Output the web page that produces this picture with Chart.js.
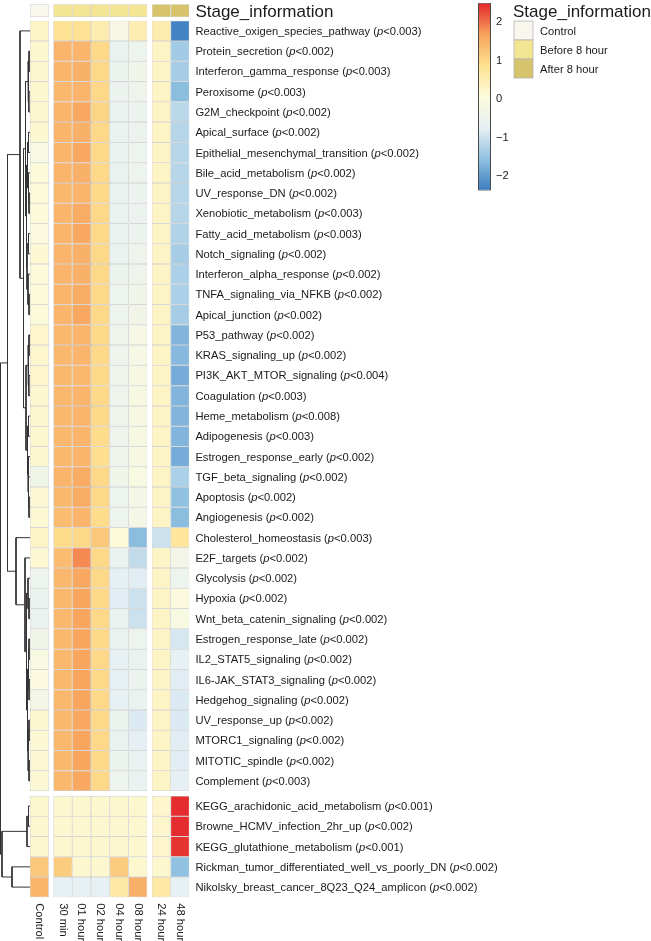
<!DOCTYPE html>
<html>
<head>
<meta charset="utf-8">
<script src="https://cdn.jsdelivr.net/npm/chart.js@4.4.1/dist/chart.umd.min.js"></script>
<style>
  html, body { margin: 0; padding: 0; background: #fff; }
  #wrap { position: relative; width: 651px; height: 941px; }
  #wrap canvas { position: absolute; left: 0; top: 0; }
</style>
</head>
<body>
<div id="wrap">
  <canvas id="heat" width="651" height="941"></canvas>
  <canvas id="colorKey" width="651" height="941"></canvas>
</div>
<script>
var pathways = [
  'Reactive_oxigen_species_pathway', 'Protein_secretion', 'Interferon_gamma_response', 'Peroxisome',
  'G2M_checkpoint', 'Apical_surface', 'Epithelial_mesenchymal_transition', 'Bile_acid_metabolism',
  'UV_response_DN', 'Xenobiotic_metabolism', 'Fatty_acid_metabolism', 'Notch_signaling',
  'Interferon_alpha_response', 'TNFA_signaling_via_NFKB', 'Apical_junction', 'P53_pathway',
  'KRAS_signaling_up', 'PI3K_AKT_MTOR_signaling', 'Coagulation', 'Heme_metabolism', 'Adipogenesis',
  'Estrogen_response_early', 'TGF_beta_signaling', 'Apoptosis', 'Angiogenesis', 'Cholesterol_homeostasis',
  'E2F_targets', 'Glycolysis', 'Hypoxia', 'Wnt_beta_catenin_signaling', 'Estrogen_response_late',
  'IL2_STAT5_signaling', 'IL6-JAK_STAT3_signaling', 'Hedgehog_signaling', 'UV_response_up',
  'MTORC1_signaling', 'MITOTIC_spindle', 'Complement',
  'KEGG_arachidonic_acid_metabolism', 'Browne_HCMV_infection_2hr_up', 'KEGG_glutathione_metabolism',
  'Rickman_tumor_differentiated_well_vs_poorly_DN', 'Nikolsky_breast_cancer_8Q23_Q24_amplicon'
];
var pvalues = [
  '0.003', '0.002', '0.003', '0.003', '0.002', '0.002', '0.002', '0.002', '0.002', '0.003', '0.003',
  '0.002', '0.002', '0.002', '0.002', '0.002', '0.002', '0.004', '0.003', '0.008', '0.003', '0.002',
  '0.002', '0.002', '0.002', '0.003', '0.002', '0.002', '0.002', '0.002', '0.002', '0.002', '0.002',
  '0.002', '0.002', '0.002', '0.002', '0.003', '0.001', '0.002', '0.001', '0.002', '0.002'
];
// first 38 rows form the upper row cluster, the rest the lower one
var topClusterSize = 38;

var timepoints = ['Control', '30 min', '01 hour', '02 hour', '04 hour', '08 hour', '24 hour', '48 hour'];
var stages = ['Control', 'Before 8 hour', 'After 8 hour'];
var stageOfTime = [0, 1, 1, 1, 1, 1, 2, 2];
var stageColors = ['#f9f6ee', '#f4e592', '#d6c36b'];

var control = [0.3, 0.2, 0.2, 0.2, 0.2, 0.2, -0.1, 0.1, 0.1, 0.1, 0.0, 0.15, 0.1, 0.1, 0.1, 0.25, 0.25, 0.25, 0.2, 0.2, 0.2, 0.2, -0.4, 0.15, 0.15, 0.3, 0.15, -0.5, -0.6, -0.6, -0.4, -0.1, 0.0, -0.3, 0.2, 0.15, 0.15, 0.15, 0.2, 0.2, 0.2, 1.2, 1.45];
var min30 = [0.85, 1.45, 1.45, 1.4, 1.45, 1.45, 1.45, 1.45, 1.4, 1.45, 1.45, 1.45, 1.45, 1.45, 1.45, 1.4, 1.4, 1.4, 1.4, 1.4, 1.4, 1.4, 1.45, 1.4, 1.35, 0.95, 1.35, 1.4, 1.4, 1.4, 1.4, 1.4, 1.4, 1.4, 1.4, 1.4, 1.4, 1.4, 0.2, 0.2, 0.2, 1.15, -0.7];
var hour01 = [0.85, 1.45, 1.5, 1.45, 1.6, 1.5, 1.6, 1.5, 1.45, 1.55, 1.6, 1.5, 1.5, 1.55, 1.6, 1.45, 1.45, 1.4, 1.45, 1.45, 1.45, 1.45, 1.55, 1.55, 1.45, 1.0, 1.85, 1.6, 1.65, 1.65, 1.65, 1.65, 1.65, 1.65, 1.6, 1.65, 1.65, 1.6, 0.2, 0.2, 0.2, 0.2, -0.7];
var hour02 = [0.55, 1.0, 1.0, 1.0, 1.05, 1.0, 1.0, 1.0, 1.0, 1.0, 1.0, 1.0, 1.0, 1.0, 1.0, 1.0, 1.0, 1.0, 1.0, 1.0, 0.95, 0.9, 1.0, 1.0, 0.95, 1.2, 1.0, 1.0, 1.0, 1.0, 1.0, 1.0, 1.0, 1.0, 1.0, 1.0, 1.0, 1.0, 0.2, 0.2, 0.2, 0.2, -0.7];
var hour04 = [-0.2, -0.6, -0.55, -0.55, -0.6, -0.6, -0.6, -0.6, -0.6, -0.6, -0.6, -0.6, -0.55, -0.5, -0.5, -0.45, -0.45, -0.45, -0.45, -0.45, -0.45, -0.45, -0.4, -0.5, -0.5, 0.1, -0.6, -0.75, -0.8, -0.6, -0.6, -0.7, -0.7, -0.7, -0.55, -0.6, -0.55, -0.5, 0.2, 0.2, 0.2, 1.15, 0.65];
var hour08 = [0.5, -0.5, -0.4, -0.45, -0.55, -0.55, -0.5, -0.5, -0.55, -0.55, -0.55, -0.45, -0.45, -0.4, -0.35, -0.2, -0.2, -0.15, -0.15, -0.15, -0.15, -0.15, -0.1, -0.25, -0.25, -1.6, -1.1, -0.8, -1.0, -1.0, -0.5, -0.6, -0.55, -0.6, -0.85, -0.75, -0.65, -0.65, 0.2, 0.2, 0.2, 0.2, 1.5];
var hour24 = [0.55, 0.3, 0.3, 0.3, 0.3, 0.3, 0.3, 0.3, 0.3, 0.3, 0.3, 0.3, 0.3, 0.3, 0.3, 0.3, 0.3, 0.3, 0.3, 0.3, 0.3, 0.3, 0.3, 0.3, 0.3, -1.0, 0.3, 0.3, 0.3, 0.3, 0.3, 0.3, 0.3, 0.3, 0.3, 0.3, 0.3, 0.3, 0.25, 0.25, 0.25, 0.2, 0.65];
var hour48 = [-2.3, -1.4, -1.35, -1.6, -1.15, -1.2, -1.2, -1.2, -1.2, -1.2, -1.25, -1.35, -1.3, -1.3, -1.35, -1.7, -1.65, -1.8, -1.7, -1.7, -1.7, -1.8, -1.3, -1.55, -1.6, 0.75, -0.3, -0.5, 0.0, -0.1, -0.9, -0.7, -0.8, -0.85, -0.85, -0.8, -0.8, -0.75, 2.45, 2.45, 2.4, -1.55, -0.7];

// colour key
var valueMin = -2.38, valueMax = 2.51;
var colorTicks = [-2, -1, 0, 1, 2];
var colorStops = ['#3a7cc0', '#8fc0e0', '#e6f0f4', '#fdfbdc', '#fde190', '#f8a15b', '#e3242b'];

// row dendrogram: [height, left, right], leaves are row indices
var rowTree = [29.5,
  [22.5,
    [10, 0,
      [6.5,
        [4.5, [2, [1, 1, 2], [1.2, 3, 4]],
              [3.5, [2.5, [1.5, 5, 6], [1.5, 7, [1, 8, 9]]], [3, [1.5, 10, 11], [2, 12, [1, 13, 14]]]]],
        [4, [2, [1, 15, 16], [1.2, 17, 18]],
            [2.5, [1.5, 19, 20], [2, 21, [1.5, 22, [1, 23, 24]]]]]]],
    [14, 25,
      [5, 26,
        [3.5, [2, 27, [1, 28, 29]],
              [2.5, [1.5, [1, 30, 31], [1, 32, 33]], [1.8, [1, 34, 35], [1, 36, 37]]]]]]],
  [28, [3, [1.5, 38, 39], 40], [18, 41, 42]]];

var FONT = '"Liberation Sans", Arial, sans-serif';
Chart.defaults.font.family = FONT;

var clusterGap = 0.24;
var groupGap = 0.25;
var annotationRow = -1;
var dendroWidth = 1.6;

var rowY = pathways.map(function (_, i) { return i < topClusterSize ? i : i + clusterGap; });
var colLeft = [];
var pos = 0;
timepoints.forEach(function (t, c) {
  if (c > 0 && stageOfTime[c] !== stageOfTime[c - 1]) pos += groupGap;
  colLeft.push(pos);
  pos += 1;
});

function hexToRgb(h) {
  return [parseInt(h.slice(1, 3), 16), parseInt(h.slice(3, 5), 16), parseInt(h.slice(5, 7), 16)];
}
function heatColor(v) {
  var t = Math.max(0, Math.min(1, (v - valueMin) / (valueMax - valueMin))) * (colorStops.length - 1);
  var i = Math.min(Math.floor(t), colorStops.length - 2), f = t - i;
  var a = hexToRgb(colorStops[i]), b = hexToRgb(colorStops[i + 1]);
  return 'rgb(' + a.map(function (c, k) { return Math.round(c + (b[k] - c) * f); }).join(',') + ')';
}

var cellStyle = {
  borderColor: '#a9a9a9', borderWidth: 0.5, borderSkipped: false, inflateAmount: 0,
  grouped: false, barPercentage: 1, categoryPercentage: 1
};

var columns = [control, min30, hour01, hour02, hour04, hour08, hour24, hour48];
var datasets = columns.map(function (vals, c) {
  return Object.assign({
    label: timepoints[c],
    data: vals.map(function (v, i) { return { x: [colLeft[c], colLeft[c] + 1], y: rowY[i] }; }),
    backgroundColor: vals.map(heatColor)
  }, cellStyle);
});

datasets.push(Object.assign({}, cellStyle, {
  label: 'Stage_information',
  data: timepoints.map(function (t, c) { return { x: [colLeft[c], colLeft[c] + 1], y: annotationRow }; }),
  backgroundColor: stageOfTime.map(function (s) { return stageColors[s]; }),
  barPercentage: 0.63
}));

// dendrogram as broken polyline, one U per merge
var rootHeight = rowTree[0];
var k = dendroWidth / (rootHeight + 0.5);
var dendroPts = [];
function walk(node) {
  if (typeof node === 'number') return { y: rowY[node], h: 0 };
  var a = walk(node[1]), b = walk(node[2]), h = node[0];
  dendroPts.push({ x: -a.h * k, y: a.y }, { x: -h * k, y: a.y }, { x: -h * k, y: b.y },
    { x: -b.h * k, y: b.y }, { x: NaN, y: NaN });
  return { y: (a.y + b.y) / 2, h: h };
}
walk(rowTree);

datasets.push({
  type: 'line',
  label: 'dendrogram',
  data: dendroPts,
  borderColor: '#333333',
  borderWidth: 1,
  pointRadius: 0,
  spanGaps: false,
  fill: false,
  tension: 0
});

var labelsPlugin = {
  id: 'heatLabels',
  afterDraw: function (chart) {
    var ctx = chart.ctx, xs = chart.scales.x, ys = chart.scales.y, area = chart.chartArea;
    var small = '11.2px ' + FONT, smallIt = 'italic 11.2px ' + FONT;
    ctx.save();
    ctx.fillStyle = '#1a1a1a';
    ctx.textBaseline = 'alphabetic';
    ctx.textAlign = 'left';
    var lx = area.right + 6;
    pathways.forEach(function (name, i) {
      var y = ys.getPixelForValue(rowY[i]) + 4;
      var x = lx;
      ctx.font = small;
      var s1 = name + ' (';
      ctx.fillText(s1, x, y); x += ctx.measureText(s1).width;
      ctx.font = smallIt;
      ctx.fillText('p', x, y); x += ctx.measureText('p').width;
      ctx.font = small;
      ctx.fillText('<' + pvalues[i] + ')', x, y);
    });
    // annotation name
    ctx.font = '17px ' + FONT;
    ctx.fillText('Stage_information', lx, ys.getPixelForValue(annotationRow) + 6.3);

    // column labels, rotated clockwise
    ctx.font = small;
    ctx.textBaseline = 'middle';
    var top = ys.getPixelForValue(rowY[rowY.length - 1] + 0.5) + 6;
    timepoints.forEach(function (t, c) {
      ctx.save();
      ctx.translate(xs.getPixelForValue(colLeft[c] + 0.5), top);
      ctx.rotate(Math.PI / 2);
      ctx.fillText(t, 0, 0);
      ctx.restore();
    });

    // stage legend
    var legX = 513, legY = 21, box = 19;
    ctx.textBaseline = 'alphabetic';
    ctx.font = '17px ' + FONT;
    ctx.fillText('Stage_information', legX, 17);
    ctx.font = small;
    stages.forEach(function (s, i) {
      var y0 = legY + i * box;
      ctx.fillStyle = stageColors[i];
      ctx.fillRect(legX + 1, y0, box, box);
      ctx.strokeStyle = '#b5b5b5';
      ctx.lineWidth = 0.8;
      ctx.strokeRect(legX + 1, y0, box, box);
      ctx.fillStyle = '#1a1a1a';
      ctx.fillText(s, legX + box + 8, y0 + box / 2 + 4);
    });
    ctx.restore();
  }
};

new Chart(document.getElementById('heat'), {
  type: 'bar',
  data: { datasets: datasets },
  options: {
    responsive: false,
    animation: false,
    indexAxis: 'y',
    layout: { padding: { left: 0, top: 0, right: 651 - 189.4, bottom: 2 } },
    plugins: { legend: { display: false }, tooltip: { enabled: false } },
    scales: {
      x: { type: 'linear', min: -dendroWidth, max: 8.5, offset: false, display: false },
      y: { type: 'linear', min: -1.5244, max: 44.8, reverse: true, offset: false, display: false }
    }
  },
  plugins: [labelsPlugin]
});

// colour key bar
new Chart(document.getElementById('colorKey'), {
  type: 'bar',
  data: {
    labels: ['key'],
    datasets: [{
      data: [[valueMin, valueMax]],
      backgroundColor: function (c) {
        var chart = c.chart, s = chart.scales.y;
        if (!chart.chartArea || !s) return colorStops[3];
        var g = chart.ctx.createLinearGradient(0, s.getPixelForValue(valueMin), 0, s.getPixelForValue(valueMax));
        colorStops.forEach(function (col, i) { g.addColorStop(i / (colorStops.length - 1), col); });
        return g;
      },
      borderColor: '#4a4a4a',
      borderWidth: 1,
      borderSkipped: false,
      inflateAmount: 0,
      barPercentage: 1,
      categoryPercentage: 1
    }]
  },
  options: {
    responsive: false,
    animation: false,
    layout: { padding: { left: 478, top: 2.7, right: 121, bottom: 941 - 190.7 } },
    plugins: { legend: { display: false }, tooltip: { enabled: false } },
    scales: {
      x: { display: false },
      y: {
        type: 'linear', position: 'right', min: valueMin, max: valueMax,
        grid: { display: false, drawTicks: false }, border: { display: false },
        afterBuildTicks: function (s) { s.ticks = colorTicks.map(function (v) { return { value: v }; }); },
        afterFit: function (s) { s.width = 39; s.paddingTop = 0; s.paddingBottom = 0; },
        ticks: {
          padding: 5, color: '#1a1a1a', font: { size: 11.2 },
          callback: function (v) { return String(v).replace('-', '\u2212'); }
        }
      }
    }
  }
});
</script>
</body>
</html>
